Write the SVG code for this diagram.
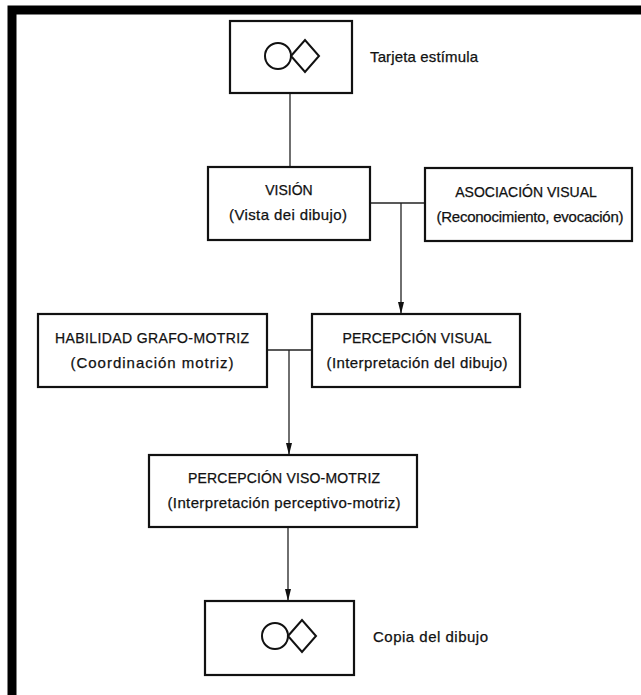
<svg xmlns="http://www.w3.org/2000/svg" width="641" height="695" viewBox="0 0 641 695">
<defs>
<style>
.box{fill:#fff;stroke:#111;stroke-width:2.2}
.ln{fill:none;stroke:#222;stroke-width:1.3}
.sym{fill:none;stroke:#111;stroke-width:2}
text{font-family:"Liberation Sans",Arial,sans-serif;font-size:14px;fill:#111;stroke:#111;stroke-width:0.25}
.s{font-size:15px}
.c{text-anchor:middle}
</style>
</defs>
<rect x="0" y="0" width="641" height="695" fill="#fff"/>
<rect x="12" y="10" width="660" height="690" fill="none" stroke="#000" stroke-width="9"/>
<g id="connectors">
<line class="ln" x1="290" y1="93" x2="290" y2="167"/>
<line class="ln" x1="370" y1="203" x2="425" y2="203"/>
<path class="ln" d="M401,203 V313"/>
<path d="M398,302 L404,302 L401,314 Z" fill="#111"/>
<line class="ln" x1="267" y1="350" x2="312" y2="350"/>
<path class="ln" d="M289,350 V454"/>
<path d="M286,443 L292,443 L289,455 Z" fill="#111"/>
<path class="ln" d="M288,527 V600"/>
<path d="M285,589 L291,589 L288,601 Z" fill="#111"/>
</g>
<g id="tarjeta">
<rect class="box" x="230" y="21" width="122" height="72"/>
<circle class="sym" cx="278" cy="56" r="13"/>
<path class="sym" d="M291,56 L305,40 L319,56 L305,72 Z"/>
<text class="s" x="370" y="62" textLength="108">Tarjeta estímula</text>
</g>
<g id="vision">
<rect class="box" x="208" y="167" width="162" height="73"/>
<text class="c" x="289" y="195">VISIÓN</text>
<text class="c s" x="288" y="220" textLength="118">(Vista dei dibujo)</text>
</g>
<g id="asociacion">
<rect class="box" x="425" y="168" width="207" height="73"/>
<text class="c" x="526" y="197">ASOCIACIÓN VISUAL</text>
<text class="c s" x="530" y="222" textLength="187">(Reconocimiento, evocación)</text>
</g>
<g id="habilidad">
<rect class="box" x="38" y="314" width="229" height="73"/>
<text class="c" x="152" y="343" textLength="194">HABILIDAD GRAFO-MOTRIZ</text>
<text class="c s" x="152" y="368" textLength="163">(Coordinación motriz)</text>
</g>
<g id="percepcion-visual">
<rect class="box" x="312" y="314" width="208" height="73"/>
<text class="c" x="417" y="343" textLength="149">PERCEPCIÓN VISUAL</text>
<text class="c s" x="417" y="368" textLength="181">(Interpretación del dibujo)</text>
</g>
<g id="viso-motriz">
<rect class="box" x="149" y="455" width="268" height="72"/>
<text class="c" x="284" y="483" textLength="192">PERCEPCIÓN VISO-MOTRIZ</text>
<text class="c s" x="284" y="508" textLength="233">(Interpretación perceptivo-motriz)</text>
</g>
<g id="copia">
<rect class="box" x="205" y="601" width="149" height="74"/>
<circle class="sym" cx="275" cy="636" r="13"/>
<path class="sym" d="M288,636 L302,620 L316,636 L302,652 Z"/>
<text class="s" x="373" y="642" textLength="115">Copia del dibujo</text>
</g>
</svg>
